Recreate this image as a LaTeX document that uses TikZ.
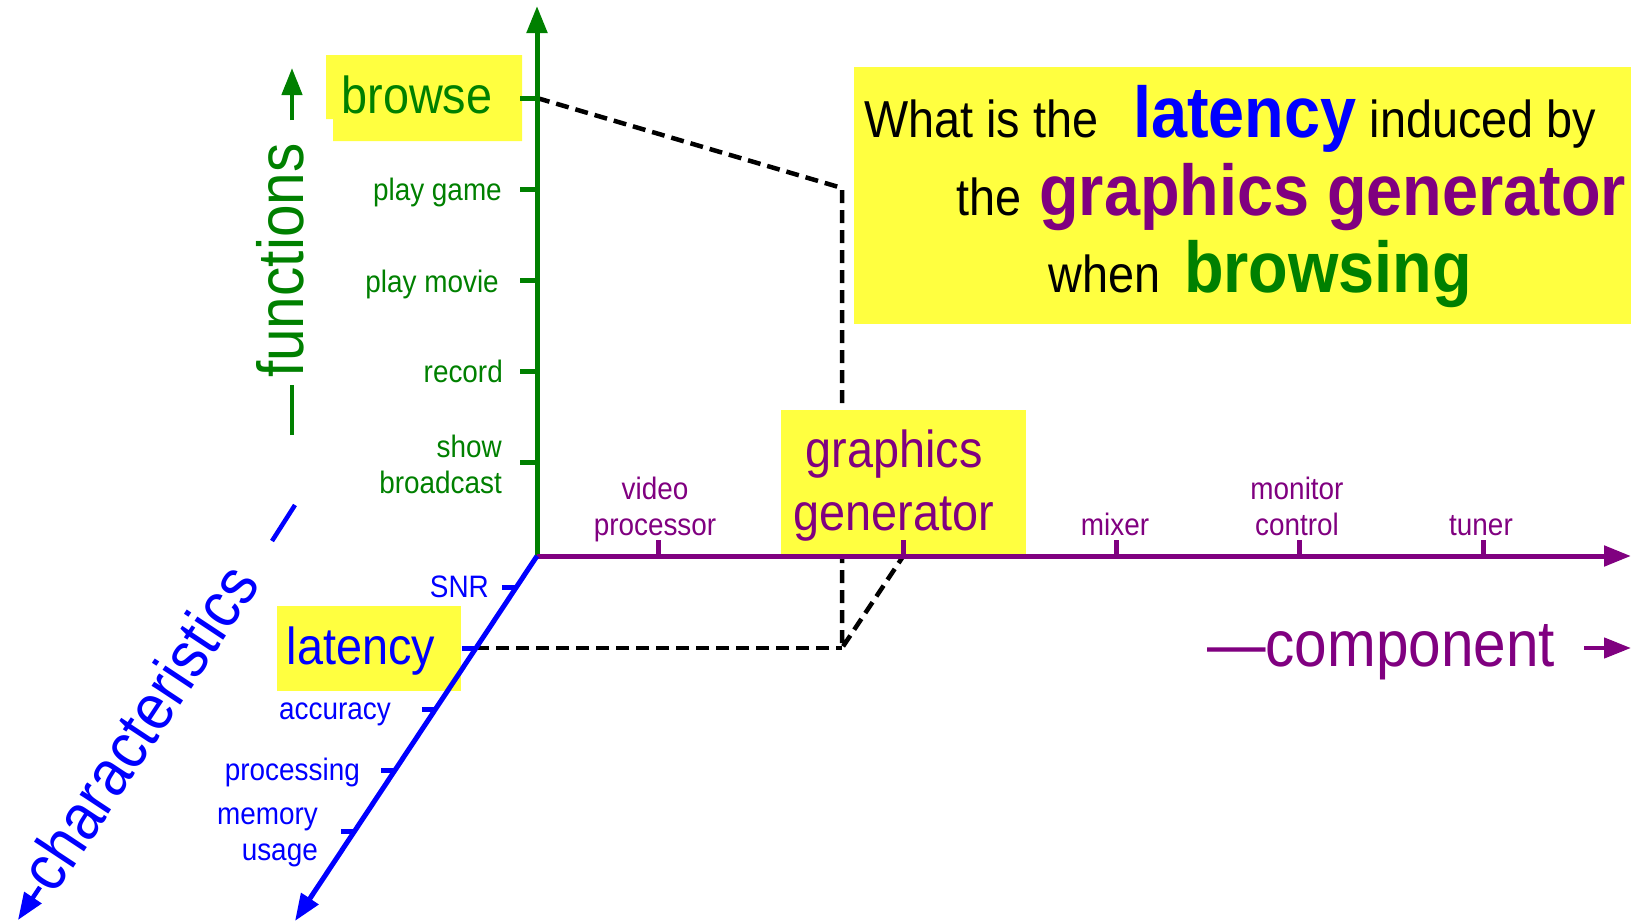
\documentclass[tikz,border=0pt]{standalone}
\usepackage{fontspec}
\setmainfont{Liberation Sans}[FakeStretch=0.9]
\usetikzlibrary{arrows.meta}
\definecolor{fgreen}{RGB}{0,128,0}
\definecolor{cpurple}{RGB}{128,0,128}
\definecolor{cblue}{RGB}{0,0,255}
\definecolor{hlyellow}{RGB}{255,255,64}
\newcommand{\hotword}{\fontsize{72}{80}\selectfont\bfseries}
\begin{document}
\begin{tikzpicture}[x=1pt, y=-1pt, >={Triangle[length=27pt,width=20pt]},
	axis/.style={line width=5pt},
	guide/.style={line width=4.5pt, dash pattern=on 13pt off 7pt},
	small/.style={inner sep=0pt, text depth=0pt, font=\fontsize{31}{36}\selectfont},
	big/.style={inner sep=0pt, text depth=0pt, font=\fontsize{52}{63}\selectfont},
	title/.style={inner sep=0pt, text depth=0pt, anchor=south west, font=\fontsize{65}{70}\selectfont},
	question/.style={inner sep=0pt, anchor=base west, font=\fontsize{52}{60}\selectfont}]
	
	\useasboundingbox (0,0) rectangle (1631,921);
	
	\coordinate (O) at (537,556);
	\coordinate (ftop) at (537,6);
	\coordinate (cright) at (1631,556);
	\coordinate (dlow) at (295,921);
	
	% tick points on the three axes
	\foreach \y/\n in {98/browse,189/game,280/movie,371/record,462/show}
	\coordinate (f\n) at (537,\y);
	\foreach \x/\n in {658.8/video,903.3/gen,1116.7/mixer,1299.8/monitor,1483.7/tuner}
	\coordinate (c\n) at (\x,556);
	\foreach \x/\y/\n in {516.4/587/snr,476/648/lat,435.6/709/acc,395.1/770/proc,354.7/831/mem}
	\coordinate (d\n) at (\x,\y);
	
	% the guide lines
	\coordinate (top) at (842,188);
	\coordinate (bot) at (842,648);
	\draw[guide] (fbrowse) -- (top) -- (bot) -- (cgen);
	\draw[guide] (dlat) -- (bot);
	
	% highlight boxes
	\fill[hlyellow] (326,55) -- (522,55) -- (522,141) -- (333,141) -- (333,119) -- (326,119) -- cycle;
	\fill[hlyellow] (277,606) rectangle (461,691);
	\fill[hlyellow] (781,410) rectangle (1026,556);
	\fill[hlyellow] (854,67) rectangle (1631,324);
	
	% axes
	\draw[axis, fgreen, ->] (O) -- (ftop);
	\draw[axis, cpurple, ->] (O) -- (cright);
	\draw[axis, cblue, ->] (O) -- (dlow);
	\foreach \n in {browse,game,movie,record,show}
	\draw[axis, fgreen] (f\n) -- ++(-17,0);
	\foreach \n in {video,gen,mixer,monitor,tuner}
	\draw[axis, cpurple] (c\n) -- ++(0,-16);
	\foreach \n in {snr,lat,acc,proc,mem}
	\draw[axis, cblue] (d\n) -- ++(-14,0);
	
	% functions
	\node[big, fgreen, anchor=south] (browse) at (417,113.5) {browse};
	\node[small, fgreen, anchor=south east] (game) at (502,200.5) {play game};
	\node[small, fgreen, anchor=south east] (movie) at (499,292.5) {play movie};
	\node[small, fgreen, anchor=south east] (record) at (503,382.5) {record};
	\node[small, fgreen, anchor=south east, align=right] (show) at (502,493.5) {show\\broadcast};
	
	% components
	\node[small, cpurple, anchor=south, align=center] (video) at (655,536) {video\\processor};
	\node[big, cpurple, anchor=south, align=center] (gen) at (894,531) {graphics\\generator};
	\node[small, cpurple, anchor=south] (mixer) at (1115,536) {mixer};
	\node[small, cpurple, anchor=south, align=center] (monitor) at (1297,536) {monitor\\control};
	\node[small, cpurple, anchor=south] (tuner) at (1481,536) {tuner};
	
	% characteristics
	\node[small, cblue, anchor=south east] (snr) at (489,597.5) {SNR};
	\node[big, cblue, anchor=south] (latency) at (361,665) {latency};
	\node[small, cblue, anchor=south east] (acc) at (391,719.5) {accuracy};
	\node[small, cblue, anchor=south east] (proc) at (360,780.5) {processing};
	\node[small, cblue, anchor=south east, align=right] (mem) at (318,860.5) {memory\\usage};
	
	% axis titles
	\node[title, fgreen, rotate=90] (functions) at (304,378) {functions};
	\draw[fgreen, line width=4.5pt] (292,435) -- (292,385);
	\draw[fgreen, line width=4.5pt, ->] (292,120) -- (292,68);
	\node[title, cpurple] (component) at (1207,667) {—component};
	\draw[cpurple, line width=4.5pt, ->] (1584,648) -- (1631,648);
	\node[title, cblue, rotate=56.5] (characteristics) at (55,896) {characteristics};
	\draw[cblue, line width=4.5pt] (272,541) -- (295,505);
	\draw[cblue, line width=4.5pt, ->] (40,887) -- (18,920);
	
	% the question
	\node[question] (q1) at (864,137) {What is the\hspace{35pt}\textcolor{cblue}{\hotword latency} induced by};
	\node[question] (q2) at (956,215) {the\hspace{18pt}\textcolor{cpurple}{\hotword graphics generator}};
	\node[question] (q3) at (1048,292) {when\hspace{24pt}\textcolor{fgreen}{\hotword browsing}};
\end{tikzpicture}
\end{document}
